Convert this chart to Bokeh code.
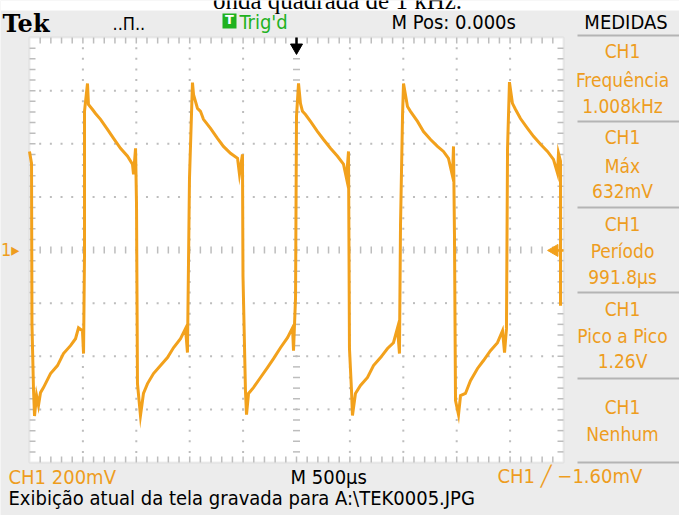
import math
from bokeh.plotting import figure
from bokeh.models import Range1d, Label, BoxAnnotation
from bokeh.embed import file_html
from bokeh.resources import INLINE

# CH1 trace: time (ms, trigger at 0) and voltage (mV)
t_ms = [-2.500, -2.481, -2.477, -2.463, -2.453, -2.434, -2.416, -2.397, -2.369, -2.303,
        -2.238, -2.182, -2.116, -2.069, -2.041, -2.004, -1.994, -1.985, -1.985, -1.957,
        -1.948, -1.910, -1.882, -1.835, -1.770, -1.713, -1.648, -1.582, -1.536, -1.526,
        -1.507, -1.498, -1.489, -1.461, -1.433, -1.395, -1.339, -1.273, -1.208, -1.152,
        -1.086, -1.039, -1.021, -1.002, -0.983, -0.974, -0.964, -0.927, -0.899, -0.871,
        -0.805, -0.740, -0.684, -0.618, -0.552, -0.534, -0.506, -0.501, -0.478, -0.468,
        -0.449, -0.403, -0.337, -0.272, -0.215, -0.150, -0.084, -0.037, -0.028, -0.009,
        0.000, 0.019, 0.037, 0.056, 0.084, 0.131, 0.197, 0.253, 0.318, 0.384,
        0.440, 0.468, 0.487, 0.496, 0.515, 0.524, 0.552, 0.599, 0.665, 0.721,
        0.787, 0.852, 0.908, 0.946, 0.964, 0.974, 0.993, 1.002, 1.039, 1.067,
        1.133, 1.189, 1.255, 1.320, 1.376, 1.423, 1.461, 1.470, 1.479, 1.489,
        1.517, 1.536, 1.582, 1.629, 1.695, 1.751, 1.816, 1.882, 1.929, 1.948,
        1.966, 1.976, 1.994, 2.022, 2.051, 2.097, 2.163, 2.219, 2.285, 2.350,
        2.406, 2.444, 2.453, 2.472, 2.472]
v_mv = [371, 326, -278, -518, -625, -548, -585, -537, -518, -465,
        -435, -390, -360, -334, -293, -304, -390, -15, 522, 627,
        548, 529, 514, 492, 454, 420, 383, 353, 323, 285,
        383, 173, -503, -623, -540, -503, -465, -435, -405, -368,
        -334, -296, -386, 270, 514, 630, 585, 533, 522, 492,
        458, 420, 390, 364, 345, 285, 360, -98, -529, -620,
        -540, -518, -480, -443, -409, -368, -330, -293, -379, -180,
        503, 627, 552, 522, 510, 484, 446, 416, 383, 353,
        323, 270, 371, -371, -529, -623, -540, -510, -480, -435,
        -405, -371, -349, -293, -390, 98, 510, 627, 540, 522,
        484, 446, 416, 390, 371, 345, 278, 390, 64, -567,
        -620, -548, -540, -492, -446, -416, -379, -349, -304, -386,
        -296, 383, 632, 552, 529, 495, 458, 428, 398, 371,
        341, 289, 364, 334, -210]

# scope settings
volts_div_mv = 200
time_div_ms = 0.5
n_div_x = 10
n_div_y = 8
trig_pos_ms = 0.0
trig_level_mv = -1.60

header = ["Tek", "Trig'd", "M Pos: 0.000s", "MEDIDAS"]
meas_src = ["CH1", "CH1", "CH1", "CH1", "CH1"]
meas_name = ["Frequência", "Máx", "Período", "Pico a Pico", "Nenhum"]
meas_val = ["1.008kHz", "632mV", "991.8µs", "1.26V", ""]
footer = ["CH1  200mV", "M 500µs", "CH1 \u2571 \u22121.60mV",
          "Exibição atual da tela gravada para A:\\TEK0005.JPG"]
caption = "onda quadrada de 1 kHz."

# ---------------- styling / layout ----------------
W, H = 679, 515
GL, GR, GT, GB = 29, 563, 37, 462      # graticule position on the screen (px)
ORANGE = "#F2A11C"
TXT_OR = "#EE9D1E"
GREEN = "#1FB21F"
BG = "#ECECEC"
GRID = "#BDBDBD"
SEP = "#B4B4B4"
FONT = "DejaVu Sans Condensed"
LIFT = 7   # labels render this many px below their nominal baseline

half_x = n_div_x / 2 * time_div_ms
half_y = n_div_y / 2 * volts_div_mv
ms_per_px = 2 * half_x / (GR - GL)
mv_per_px = 2 * half_y / (GB - GT)

p = figure(width=W, height=H, output_backend="svg", toolbar_location=None,
           title=None, x_axis_location=None, y_axis_location=None,
           x_range=Range1d(-half_x - GL * ms_per_px, half_x + (W - GR) * ms_per_px),
           y_range=Range1d(-half_y - (H - GB) * mv_per_px, half_y + GT * mv_per_px),
           min_border_left=0, min_border_right=0, min_border_top=0, min_border_bottom=0)
p.xgrid.grid_line_color = None
p.ygrid.grid_line_color = None
p.border_fill_color = BG
p.background_fill_color = BG
p.outline_line_color = None

p.add_layout(BoxAnnotation(left=-half_x, right=half_x, bottom=-half_y, top=half_y,
                           fill_color="white", fill_alpha=1.0, line_color="#C2C2C2",
                           line_width=2, level="underlay"))

dx, dy = [], []
minor_x = time_div_ms / 5
minor_y = volts_div_mv / 5
for i in range(1, n_div_x):
    if i == n_div_x // 2:
        continue
    xv = -half_x + i * time_div_ms
    for j in range(1, n_div_y * 5):
        dx.append(xv); dy.append(-half_y + j * minor_y)
for i in range(1, n_div_y):
    if i == n_div_y // 2:
        continue
    yv = -half_y + i * volts_div_mv
    for j in range(1, n_div_x * 5):
        dx.append(-half_x + j * minor_x); dy.append(yv)
p.scatter(dx, dy, marker="square", size=2, fill_color=GRID, line_color=None)

cx = [-half_x + j * minor_x for j in range(1, n_div_x * 5)]
cy = [-half_y + j * minor_y for j in range(1, n_div_y * 5)]
p.scatter(cx, [0] * len(cx), marker="dash", size=7, angle=math.pi / 2,
          line_color=GRID, line_width=1.5)
p.scatter([0] * len(cy), cy, marker="dash", size=7, line_color=GRID, line_width=1.5)
tick = 6
p.segment(x0=cx, y0=[half_y] * len(cx), x1=cx, y1=[half_y - tick * mv_per_px] * len(cx),
          line_color=GRID, line_width=1.5)
p.segment(x0=cx, y0=[-half_y] * len(cx), x1=cx, y1=[-half_y + tick * mv_per_px] * len(cx),
          line_color=GRID, line_width=1.5)
p.segment(x0=[-half_x] * len(cy), y0=cy, x1=[-half_x + tick * ms_per_px] * len(cy), y1=cy,
          line_color=GRID, line_width=1.5)
p.segment(x0=[half_x] * len(cy), y0=cy, x1=[half_x - tick * ms_per_px] * len(cy), y1=cy,
          line_color=GRID, line_width=1.5)

# trace
p.line(t_ms, v_mv, line_color=ORANGE, line_width=3, line_join="miter")

# trigger position arrow (top)
p.segment(x0=[trig_pos_ms], y0=[half_y], x1=[trig_pos_ms], y1=[half_y - 9 * mv_per_px],
          line_color="black", line_width=2.5)
p.scatter([trig_pos_ms], [half_y - 10 * mv_per_px], marker="inverted_triangle", size=12,
          fill_color="black", line_color="black")
# trigger level marker (right)
p.segment(x0=[half_x - 6 * ms_per_px], y0=[trig_level_mv], x1=[half_x], y1=[trig_level_mv],
          line_color=ORANGE, line_width=2.5)
p.scatter([half_x - 9 * ms_per_px], [trig_level_mv], marker="triangle", size=12,
          angle=math.pi / 2, fill_color=ORANGE, line_color=ORANGE)


def lab(x, base, text, color="black", size="20px", align="left", font=FONT, style="normal"):
    p.add_layout(Label(x=x, y=H - base + LIFT, x_units="screen", y_units="screen", text=text,
                       text_color=color, text_font_size=size, text_align=align,
                       text_baseline="alphabetic", text_font=font, text_font_style=style))


def box(l, r, t, b, color):
    p.add_layout(BoxAnnotation(left=l, right=r, top=H - t, bottom=H - b,
                               left_units="screen", right_units="screen",
                               top_units="screen", bottom_units="screen",
                               fill_color=color, fill_alpha=1.0, line_color=None))


# white strip + caption at the very top (cut by the top edge, as on the capture)
box(0, W, 0, 10, "white")
lab(337, 7, caption, size="25px", align="center", font="Liberation Serif")

# header
lab(2, 30, header[0], size="24px", font="DejaVu Serif", style="bold")
lab(112, 30, "..\u03a0..", size="18px")
box(222, 236, 13, 28, GREEN)
lab(229, 26, "T", color="white", size="13px", align="center", font="DejaVu Sans", style="bold")
lab(239, 28, header[1], color=GREEN)
lab(391, 28, header[2])
lab(625.5, 28, header[3], align="center")

# measurement panel
seps = [35, 121, 207, 292, 378, 462]
for s in seps:
    box(577, W, s - 1, s + 1, SEP)
bases = [(57, 86, 112), (143, 172, 197), (230, 257, 283), (315, 342, 367), (413, 440, None)]
for k in range(5):
    b1, b2, b3 = bases[k]
    lab(622, b1, meas_src[k], color=TXT_OR, size="19px", align="center")
    lab(622, b2, meas_name[k], color=TXT_OR, size="19px", align="center")
    if b3 is not None:
        lab(622, b3, meas_val[k], color=TXT_OR, size="19px", align="center")

# channel ground marker (left)
lab(19, 256, "1\u25b8", color=TXT_OR, size="18px", align="right")

# footer
lab(8, 483, footer[0], color=TXT_OR)
lab(290, 483, footer[1])
lab(497, 482, footer[2], color=TXT_OR)
lab(8, 504, footer[3])

open("out.html", "w").write(file_html(p, INLINE))
